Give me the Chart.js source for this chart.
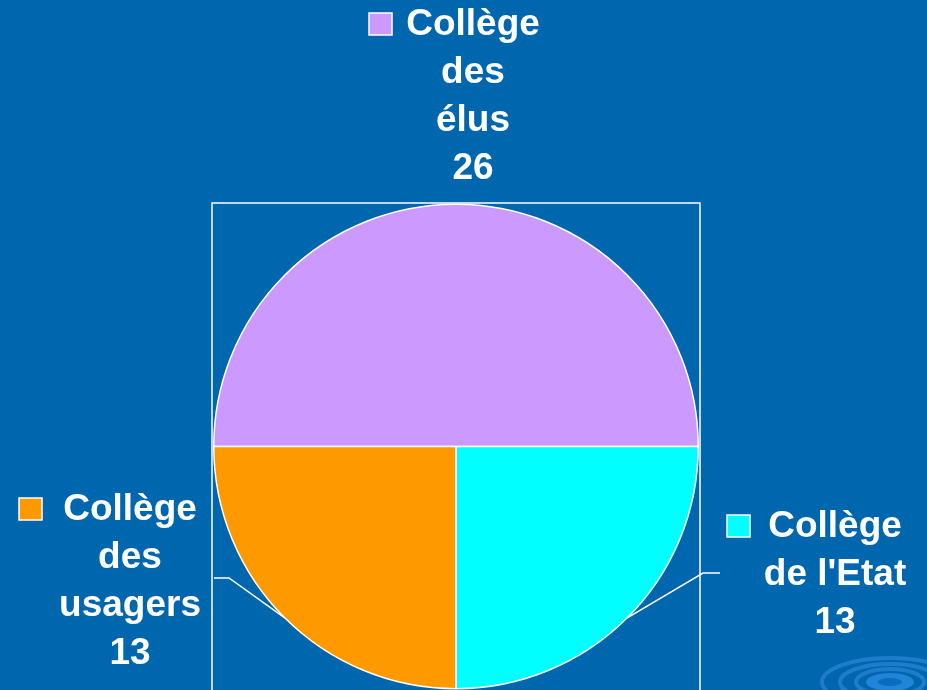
<!DOCTYPE html>
<html>
<head>
<meta charset="utf-8">
<script src="https://cdn.jsdelivr.net/npm/chart.js@4"></script>
<style>
  body { margin: 0; background: #0066AE; }
  canvas { display: block; }
</style>
</head>
<body>
<canvas id="collegesChart" width="927" height="690"></canvas>
<script>
// Composition des collèges
const categories = ['Collège des élus', "Collège de l'Etat", 'Collège des usagers'];
const labelLines = [['Collège', 'des', 'élus'], ['Collège', "de l'Etat"], ['Collège', 'des', 'usagers']];
const seats = [26, 13, 13];
const sliceColors = ['#CC99FF', '#00FFFF', '#FF9900'];

// where each text block sits (centre x, first baseline, square x), and the elbow of its leader line
const labelPlaces = [
    { cx: 473, y: 35, sqX: 369, elbow: null },
    { cx: 835, y: 537, sqX: 727, elbow: [703, 573, 720] },
    { cx: 130, y: 520, sqX: 19, elbow: [229, 578, 214] }
];

const backdrop = {
    id: 'backdrop',
    beforeDraw(chart) {
        const c = chart.ctx;
        c.save();
        c.fillStyle = '#0066AE';
        c.fillRect(0, 0, chart.width, chart.height);
        // little water ripple bottom right
        c.strokeStyle = 'rgba(50,140,220,0.6)';
        c.lineWidth = 4;
        [[68, 24], [50, 18], [34, 13]].forEach(r => {
            c.beginPath();
            c.ellipse(890, 682, r[0], r[1], 0, 0, Math.PI * 2);
            c.stroke();
        });
        c.fillStyle = 'rgba(40,140,225,0.8)';
        c.beginPath();
        c.ellipse(890, 682, 24, 9, 0, 0, Math.PI * 2);
        c.fill();
        c.fillStyle = '#0A6CC0';
        c.beginPath();
        c.ellipse(890, 682, 12, 4, 0, 0, Math.PI * 2);
        c.fill();
        c.restore();
    },
    afterDraw(chart) {
        const c = chart.ctx;
        const a = chart.chartArea;
        const meta = chart.getDatasetMeta(0);
        c.save();
        c.strokeStyle = '#FFFFFF';
        c.lineWidth = 1.5;
        c.strokeRect(a.left - 1, a.top, a.width + 2, a.height + 3);

        c.font = 'bold 37px "Liberation Sans", Arial, sans-serif';
        c.textAlign = 'center';
        c.textBaseline = 'alphabetic';
        labelPlaces.forEach((p, i) => {
            const lines = labelLines[i].concat([String(seats[i])]);
            c.fillStyle = '#FFFFFF';
            lines.forEach((t, k) => c.fillText(t, p.cx, p.y + k * 48));
            // legend square
            c.fillStyle = sliceColors[i];
            c.fillRect(p.sqX, p.y - 22, 23, 22);
            c.strokeStyle = '#FFFFFF';
            c.lineWidth = 1.5;
            c.strokeRect(p.sqX, p.y - 22, 23, 22);

            if (p.elbow) {
                const arc = meta.data[i];
                const mid = (arc.startAngle + arc.endAngle) / 2;
                const ex = arc.x + Math.cos(mid) * arc.outerRadius;
                const ey = arc.y + Math.sin(mid) * arc.outerRadius;
                c.beginPath();
                c.moveTo(ex, ey);
                c.lineTo(p.elbow[0], p.elbow[1]);
                c.lineTo(p.elbow[2], p.elbow[1]);
                c.stroke();
            }
        });
        c.restore();
    }
};

new Chart(document.getElementById('collegesChart'), {
    type: 'pie',
    data: {
        labels: categories,
        datasets: [{
            data: seats,
            backgroundColor: sliceColors,
            borderColor: '#FFFFFF',
            borderWidth: 1.5
        }]
    },
    options: {
        responsive: false,
        animation: false,
        rotation: -90,
        layout: { padding: { left: 213, right: 228, top: 203, bottom: 0 } },
        plugins: {
            legend: { display: false },
            tooltip: { enabled: false }
        }
    },
    plugins: [backdrop]
});
</script>
</body>
</html>
